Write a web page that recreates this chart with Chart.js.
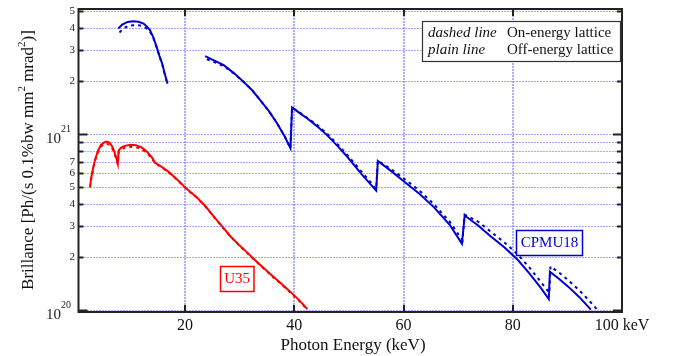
<!DOCTYPE html>
<html>
<head>
<meta charset="utf-8">
<script src="https://cdn.jsdelivr.net/npm/chart.js@4/dist/chart.umd.min.js"></script>
<style>
  html, body { margin: 0; padding: 0; background: #fff; }
  canvas { display: block; }
</style>
</head>
<body>
<canvas id="chart" width="673" height="356" style="width:673px;height:356px"></canvas>
<script>
// photon energy (keV) and brilliance
const u35E = [2.6, 2.8, 3.2, 3.6, 4.1, 4.6, 5.2, 5.7, 6.2, 6.7, 7.1, 7.5, 7.7, 7.85, 8.3, 9.0, 10.0, 11.0, 12.0, 13.0, 14.0, 14.5, 15.2, 16.0, 17.0, 18.0, 19.0, 20.0, 21.0, 22.2, 23.7, 25.2, 26.8, 28.3, 29.8, 31.4, 32.9, 34.4, 35.9, 37.5, 39.0, 40.7, 42.4];
const u35Off = [5.0e20, 5.6e20, 6.5e20, 7.3e20, 8.1e20, 8.7e20, 9.0e20, 9.1e20, 8.95e20, 8.5e20, 7.9e20, 7.2e20, 6.8e20, 8.1e20, 8.4e20, 8.6e20, 8.72e20, 8.68e20, 8.45e20, 8.0e20, 7.35e20, 6.9e20, 6.7e20, 6.45e20, 6.12e20, 5.75e20, 5.38e20, 5.0e20, 4.7e20, 4.38e20, 3.92e20, 3.43e20, 3.0e20, 2.64e20, 2.37e20, 2.13e20, 1.92e20, 1.74e20, 1.58e20, 1.43e20, 1.3e20, 1.16e20, 1.02e20];
const u35On = [5.0e20, 5.5e20, 6.4e20, 7.2e20, 7.95e20, 8.5e20, 8.8e20, 8.85e20, 8.7e20, 8.3e20, 7.75e20, 7.1e20, 6.75e20, 7.9e20, 8.2e20, 8.4e20, 8.5e20, 8.45e20, 8.25e20, 7.85e20, 7.25e20, 6.85e20, 6.65e20, 6.4e20, 6.08e20, 5.72e20, 5.35e20, 4.98e20, 4.68e20, 4.36e20, 3.9e20, 3.42e20, 2.99e20, 2.63e20, 2.36e20, 2.12e20, 1.91e20, 1.73e20, 1.57e20, 1.42e20, 1.29e20, 1.15e20, 1.01e20];

const cpmuOffE = [7.8, 8.5, 9.5, 10.5, 11.5, 12.4, 13.0, 13.6, 14.2, 14.8, 15.3, 15.8, 16.3, 16.8, 20.0, 23.7, 25.0, 27.1, 29.0, 30.7, 32.3, 33.8, 35.4, 36.9, 38.2, 39.3, 39.6, 41.0, 42.4, 44.2, 46.0, 47.9, 49.7, 52.4, 55.0, 55.3, 57.7, 60.1, 62.9, 65.6, 68.5, 70.7, 71.2, 73.6, 76.0, 78.5, 80.9, 83.0, 85.0, 86.6, 86.8, 88.5, 90.1, 92.2, 94.3];
const cpmuOff = [3.99e21, 4.2e21, 4.35e21, 4.39e21, 4.36e21, 4.26e21, 4.1e21, 3.9e21, 3.55e21, 3.14e21, 2.8e21, 2.53e21, 2.2e21, 1.94e21, null, 2.78e21, 2.66e21, 2.47e21, 2.22e21, 1.99e21, 1.78e21, 1.56e21, 1.35e21, 1.15e21, 9.8e20, 8.34e20, 1.42e21, 1.32e21, 1.23e21, 1.11e21, 9.9e20, 8.6e20, 7.46e20, 5.9e20, 4.79e20, 7.06e20, 6.2e20, 5.4e20, 4.6e20, 3.85e20, 3.05e20, 2.39e20, 3.46e20, 3.05e20, 2.63e20, 2.28e20, 1.94e20, 1.63e20, 1.36e20, 1.16e20, 1.66e20, 1.51e20, 1.37e20, 1.19e20, 1.01e20];

const cpmuOnE = [8.0, 8.7, 9.5, 10.5, 11.5, 12.4, 13.0, 13.6, 14.2, 14.8, 15.3, 15.8, 16.3, 16.8, 20.0, 24.0, 25.0, 27.1, 29.0, 30.7, 32.3, 33.8, 35.4, 36.9, 38.2, 39.3, 39.6, 41.0, 42.4, 44.2, 46.0, 47.9, 49.7, 52.4, 55.0, 55.3, 57.7, 60.1, 62.9, 65.6, 68.5, 70.8, 71.2, 73.6, 76.0, 78.5, 80.9, 83.0, 85.0, 86.7, 86.9, 88.5, 90.1, 92.2, 94.3, 95.6];
const cpmuOn = [3.79e21, 3.98e21, 4.12e21, 4.17e21, 4.17e21, 4.1e21, 3.98e21, 3.82e21, 3.52e21, 3.12e21, 2.79e21, 2.52e21, 2.19e21, 1.93e21, null, 2.67e21, 2.6e21, 2.44e21, 2.21e21, 1.99e21, 1.78e21, 1.56e21, 1.35e21, 1.15e21, 9.8e20, 8.34e20, 1.42e21, 1.33e21, 1.24e21, 1.13e21, 1.01e21, 8.8e20, 7.65e20, 6.1e20, 4.9e20, 7.1e20, 6.35e20, 5.6e20, 4.8e20, 4.0e20, 3.18e20, 2.5e20, 3.5e20, 3.2e20, 2.8e20, 2.43e20, 2.08e20, 1.76e20, 1.47e20, 1.26e20, 1.78e20, 1.64e20, 1.49e20, 1.3e20, 1.11e20, 1.0e20];

const xTicks = [20, 40, 60, 80, 100];
const yGrid = [1e20, 2e20, 3e20, 4e20, 5e20, 6e20, 7e20, 8e20, 9e20, 1e21, 2e21, 3e21, 4e21, 5e21];
const yLabels = ['10|20', '2', '3', '4', '5', '6', '7', '', '', '10|21', '2', '3', '4', '5'];

const SERIF = '"Liberation Serif", "DejaVu Serif", serif';
const RED = '#ff0000';
const BLUE = '#0000cc';

function pts(xs, ys) {
  return xs.map((x, i) => ({ x: x, y: ys[i] }));
}

function line(color, values, dashed) {
  return {
    data: values,
    borderColor: color,
    borderWidth: 2,
    borderDash: dashed ? [3, 4] : [],
    pointRadius: 0,
    fill: false,
    tension: 0,
    spanGaps: false
  };
}

const decorations = {
  id: 'decorations',
  beforeDatasetsDraw(chart) {
    const { ctx, chartArea: a, scales } = chart;
    ctx.save();
    // horizontal dotted grid
    ctx.strokeStyle = '#5050ff';
    ctx.lineWidth = 1;
    ctx.setLineDash([1, 2]);
    yGrid.forEach(v => {
      const y = Math.round(scales.y.getPixelForValue(v)) + 0.5;
      ctx.beginPath();
      ctx.moveTo(a.left, y);
      ctx.lineTo(a.right, y);
      ctx.stroke();
    });
    // vertical grid
    ctx.strokeStyle = 'rgba(110,110,255,0.55)';
    ctx.lineWidth = 2;
    ctx.setLineDash([2, 1]);
    xTicks.slice(0, -1).forEach(v => {
      const x = Math.round(scales.x.getPixelForValue(v));
      ctx.beginPath();
      ctx.moveTo(x, a.top);
      ctx.lineTo(x, a.bottom);
      ctx.stroke();
    });
    ctx.restore();
  },
  afterDraw(chart) {
    const { ctx, chartArea: a, scales } = chart;
    ctx.save();
    ctx.setLineDash([]);

    // frame
    ctx.strokeStyle = '#222';
    ctx.lineWidth = 2;
    ctx.strokeRect(a.left, a.top, a.right - a.left, a.bottom - a.top);

    // ticks
    ctx.lineWidth = 2;
    ctx.beginPath();
    xTicks.slice(0, -1).forEach(v => {
      const x = Math.round(scales.x.getPixelForValue(v));
      ctx.moveTo(x, a.bottom); ctx.lineTo(x, a.bottom - 7);
      ctx.moveTo(x, a.top); ctx.lineTo(x, a.top + 7);
    });
    yGrid.forEach((v, i) => {
      const y = Math.round(scales.y.getPixelForValue(v)) + 0.5;
      const len = yLabels[i].includes('|') ? 9 : 5;
      ctx.moveTo(a.left, y); ctx.lineTo(a.left + len, y);
      ctx.moveTo(a.right, y); ctx.lineTo(a.right - len, y);
    });
    ctx.stroke();

    // y tick labels
    ctx.fillStyle = '#222';
    ctx.textAlign = 'right';
    yGrid.forEach((v, i) => {
      const lab = yLabels[i];
      if (!lab) return;
      const y = scales.y.getPixelForValue(v);
      if (lab.includes('|')) {
        const [base, exp] = lab.split('|');
        ctx.textBaseline = 'alphabetic';
        ctx.font = '10px ' + SERIF;
        ctx.fillText(exp, 71, y - 2);
        const ew = ctx.measureText(exp).width;
        ctx.font = '15px ' + SERIF;
        ctx.fillText(base, 71 - ew, y + 9);
      } else {
        ctx.textBaseline = 'middle';
        ctx.font = '11px ' + SERIF;
        ctx.fillText(lab, 75, y);
      }
    });

    // x axis title
    ctx.textAlign = 'center';
    ctx.textBaseline = 'middle';
    ctx.font = '17px ' + SERIF;
    ctx.fillStyle = '#111';
    ctx.fillText('Photon Energy (keV)', 353, 346);

    // y axis title with superscripts
    const parts = [
      ['Brillance [Ph/(s 0.1%bw mm', 17, 0],
      ['2', 11, 8],
      [' mrad', 17, 0],
      ['2', 11, 8],
      [')]', 17, 0]
    ];
    let total = 0;
    parts.forEach(p => { ctx.font = p[1] + 'px ' + SERIF; p.push(ctx.measureText(p[0]).width); total += p[3]; });
    ctx.save();
    ctx.translate(33, 160);
    ctx.rotate(-Math.PI / 2);
    ctx.textAlign = 'left';
    ctx.textBaseline = 'alphabetic';
    let px = -total / 2;
    parts.forEach(p => {
      ctx.font = p[1] + 'px ' + SERIF;
      ctx.fillText(p[0], px, -p[2]);
      px += p[3];
    });
    ctx.restore();

    // legend box
    ctx.fillStyle = '#fff';
    ctx.fillRect(422.5, 21.5, 198, 40);
    ctx.strokeStyle = '#333';
    ctx.lineWidth = 1.2;
    ctx.strokeRect(422.5, 21.5, 198, 40);
    ctx.fillStyle = '#111';
    ctx.textAlign = 'left';
    ctx.textBaseline = 'middle';
    ctx.font = 'italic 15px ' + SERIF;
    ctx.fillText('dashed line', 428, 33);
    ctx.fillText('plain line', 428, 50);
    ctx.font = '15px ' + SERIF;
    ctx.fillText('On-energy lattice', 507, 33);
    ctx.fillText('Off-energy lattice', 507, 50);

    // curve tags
    ctx.lineWidth = 1.5;
    ctx.textAlign = 'center';
    ctx.fillStyle = '#fff';
    ctx.fillRect(220.5, 266.5, 33.5, 25);
    ctx.strokeStyle = RED;
    ctx.strokeRect(220.5, 266.5, 33.5, 25);
    ctx.fillStyle = RED;
    ctx.fillText('U35', 237.2, 279.5);

    ctx.fillStyle = '#fff';
    ctx.fillRect(516.5, 230.5, 66, 25);
    ctx.strokeStyle = BLUE;
    ctx.strokeRect(516.5, 230.5, 66, 25);
    ctx.fillStyle = BLUE;
    ctx.fillText('CPMU18', 549.5, 243.5);

    ctx.restore();
  }
};

new Chart(document.getElementById('chart').getContext('2d'), {
  type: 'line',
  data: {
    datasets: [
      line(RED, pts(u35E, u35Off), false),
      line(RED, pts(u35E, u35On), true),
      line(BLUE, pts(cpmuOffE, cpmuOff), false),
      line(BLUE, pts(cpmuOnE, cpmuOn), true)
    ]
  },
  options: {
    responsive: false,
    animation: false,
    layout: { padding: { left: 0, right: 51, top: 9, bottom: 0 } },
    plugins: { legend: { display: false }, tooltip: { enabled: false } },
    scales: {
      x: {
        type: 'linear',
        min: 0.5,
        max: 100,
        afterBuildTicks: s => { s.ticks = xTicks.map(v => ({ value: v })); },
        afterFit: s => { s.height = 44; },
        grid: { display: false, drawTicks: false },
        border: { display: false },
        ticks: {
          font: { family: SERIF, size: 16 },
          color: '#111',
          padding: 4,
          maxRotation: 0,
          autoSkip: false,
          callback: v => (v === 100 ? '100 keV' : String(v))
        }
      },
      y: {
        type: 'logarithmic',
        min: 0.98e20,
        max: 5.15e21,
        afterBuildTicks: s => { s.ticks = yGrid.map(v => ({ value: v })); },
        afterFit: s => { s.width = 78.5; },
        grid: { display: false },
        border: { display: false },
        ticks: { display: false }
      }
    }
  },
  plugins: [decorations]
});
</script>
</body>
</html>
